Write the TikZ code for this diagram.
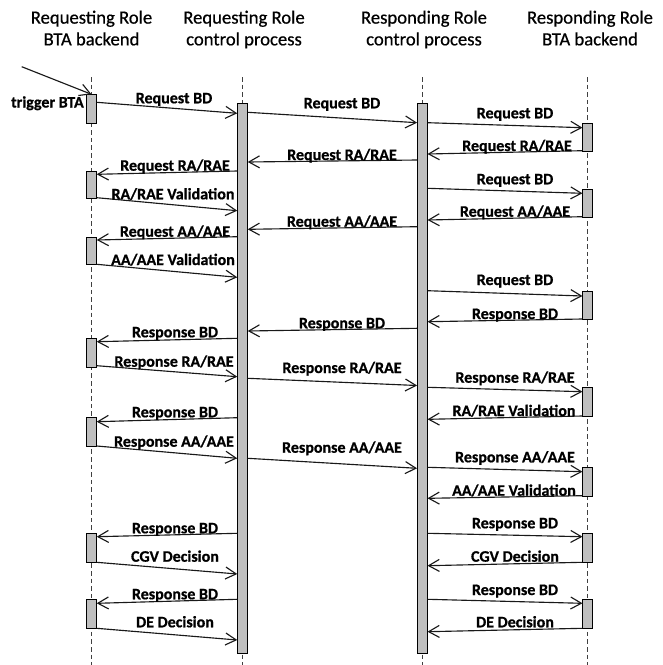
\documentclass[tikz,border=0pt]{standalone}
\usepackage{fontspec}
\setmainfont{Carlito}[BoldFeatures={FakeBold=0.8}]
\newfontfamily\hdrfont{Carlito}[FakeBold=0.6]
\usetikzlibrary{arrows.meta}
\tikzset{
  lifeline/.style={draw=black!75, line width=0.75pt, dash pattern=on 3.5pt off 2.2pt},
  actbox/.style={draw=black, fill=black!25, line width=0.75pt, minimum width=7.1pt, inner sep=0pt, anchor=north},
  msgline/.style={draw=black!90, line width=0.85pt, -{Straight Barb[length=8pt,width=9pt]}},
  lbl/.style={font=\bfseries\fontsize{12}{14}\selectfont, inner sep=0pt, anchor=base},
  hdr/.style={font=\hdrfont\fontsize{14}{16.3}\selectfont, align=center, inner sep=0pt, anchor=north},
}
\newcommand\actnode[4]{\node[actbox, minimum height={(#4-#3)*0.75pt}] (#1) at (#2,#3) {};}
\newcommand\msgto[8]{\draw[msgline] (#1 |- 0,#2) -- (#3 |- 0,#4); \node[lbl] (#8) at (#6,#7) {#5};}
\begin{document}
\begin{tikzpicture}[x=0.75pt,y=-0.75pt]
\useasboundingbox (0,0) rectangle (662,665);
% headers
\node[hdr] (h1) at (91.5,10.4) {Requesting Role\\BTA backend};
\node[hdr] (h2) at (244,10.4) {Requesting Role\\control process};
\node[hdr] (h3) at (424,10.4) {Responding Role\\control process};
\node[hdr] (h4) at (590,10.4) {Responding Role\\BTA backend};
% lifelines
\coordinate (t1) at (91.5,77); \coordinate (e1) at (91.5,665);
\coordinate (t2) at (242.5,77); \coordinate (e2) at (242.5,665);
\coordinate (t3) at (422.3,77); \coordinate (e3) at (422.3,665);
\coordinate (t4) at (587.7,77); \coordinate (e4) at (587.7,665);
\draw[lifeline] (t1) -- (e1);
\draw[lifeline] (t2) -- (e2);
\draw[lifeline] (t3) -- (e3);
\draw[lifeline] (t4) -- (e4);
% activation boxes
\actnode{b2}{242.5}{102.7}{653.3}
\actnode{b3}{422.3}{102.7}{653.3}
\actnode{a1}{91.5}{94.3}{123.3}
\actnode{a2}{91.5}{170.7}{198.3}
\actnode{a3}{91.5}{236.7}{264.3}
\actnode{a4}{91.5}{338.3}{366.7}
\actnode{a5}{91.5}{417.3}{446}
\actnode{a6}{91.5}{533.3}{562.3}
\actnode{a7}{91.5}{599.3}{628.3}
\actnode{d1}{587.7}{122.7}{151}
\actnode{d2}{587.7}{189.3}{216.7}
\actnode{d3}{587.7}{290.7}{319}
\actnode{d4}{587.7}{387.3}{416}
\actnode{d5}{587.7}{467.3}{495.7}
\actnode{d6}{587.7}{533.3}{562.3}
\actnode{d7}{587.7}{599.3}{628.3}
% trigger
\coordinate (trig) at (21.7,66.7);
\draw[msgline] (trig) -- (a1.north);
\node[lbl, anchor=base east] (tl) at (84,107.5) {trigger BTA};
% lane 1 <-> lane 2
\msgto{a1.east}{102.3}{b2.west}{113.3}{Request BD}{174}{103.3}{m1}
\msgto{b2.west}{171}{a2.east}{174.3}{Request RA/RAE}{175}{170.7}{m2}
\msgto{a2.east}{197.7}{b2.west}{210.7}{RA/RAE Validation}{173}{199.3}{m3}
\msgto{b2.west}{236.7}{a3.east}{240}{Request AA/AAE}{175}{236.7}{m4}
\msgto{a3.east}{264.3}{b2.west}{277.3}{AA/AAE Validation}{173}{265}{m5}
\msgto{b2.west}{338.3}{a4.east}{341.7}{Response BD}{175}{337.3}{m6}
\msgto{a4.east}{365.7}{b2.west}{376.7}{Response RA/RAE}{174}{366.7}{m7}
\msgto{b2.west}{417.7}{a5.east}{421.7}{Response BD}{175}{417.3}{m8}
\msgto{a5.east}{446}{b2.west}{458.3}{Response AA/AAE}{174}{446.7}{m9}
\msgto{b2.west}{533.3}{a6.east}{536.7}{Response BD}{175}{533.3}{m10}
\msgto{a6.east}{562.3}{b2.west}{574}{CGV Decision}{175}{561.7}{m11}
\msgto{b2.west}{599.3}{a7.east}{603.3}{Response BD}{175}{599.3}{m12}
\msgto{a7.east}{628.3}{b2.west}{640}{DE Decision}{175}{627.3}{m13}
% lane 2 <-> lane 3
\msgto{b2.east}{112.3}{b3.west}{122.7}{Request BD}{342}{108.3}{m14}
\msgto{b3.west}{160}{b2.east}{162}{Request RA/RAE}{342}{160}{m15}
\msgto{b3.west}{226.7}{b2.east}{229.3}{Request AA/AAE}{342}{226.7}{m16}
\msgto{b3.west}{328.3}{b2.east}{331}{Response BD}{342}{328.3}{m17}
\msgto{b2.east}{378.3}{b3.west}{385.5}{Response RA/RAE}{342}{373}{m18}
\msgto{b2.east}{458.3}{b3.west}{468.3}{Response AA/AAE}{342}{452.7}{m19}
% lane 3 <-> lane 4
\msgto{b3.east}{122.7}{d1.west}{127.7}{Request BD}{515}{118.3}{m20}
\msgto{d1.west}{150.7}{b3.east}{154}{Request RA/RAE}{517}{151}{m21}
\msgto{b3.east}{188.3}{d2.west}{193.3}{Request BD}{515}{184.3}{m22}
\msgto{d2.west}{216.7}{b3.east}{220}{Request AA/AAE}{515}{216.7}{m23}
\msgto{b3.east}{290.7}{d3.west}{296}{Request BD}{515}{285}{m24}
\msgto{d3.west}{319}{b3.east}{321.7}{Response BD}{515}{319}{m25}
\msgto{b3.east}{387.3}{d4.west}{391.7}{Response RA/RAE}{515}{382.7}{m26}
\msgto{d4.west}{416}{b3.east}{419.3}{RA/RAE Validation}{514}{416}{m27}
\msgto{b3.east}{467.3}{d5.west}{471.7}{Response AA/AAE}{515}{462.3}{m28}
\msgto{d5.west}{495.7}{b3.east}{498.3}{AA/AAE Validation}{514}{495.7}{m29}
\msgto{b3.east}{533.3}{d6.west}{536.7}{Response BD}{515}{528.3}{m30}
\msgto{d6.west}{562.3}{b3.east}{565.7}{CGV Decision}{515}{561.7}{m31}
\msgto{b3.east}{599.3}{d7.west}{603.3}{Response BD}{515}{595}{m32}
\msgto{d7.west}{628.3}{b3.east}{631.7}{DE Decision}{515}{627.3}{m33}
\end{tikzpicture}
\end{document}
